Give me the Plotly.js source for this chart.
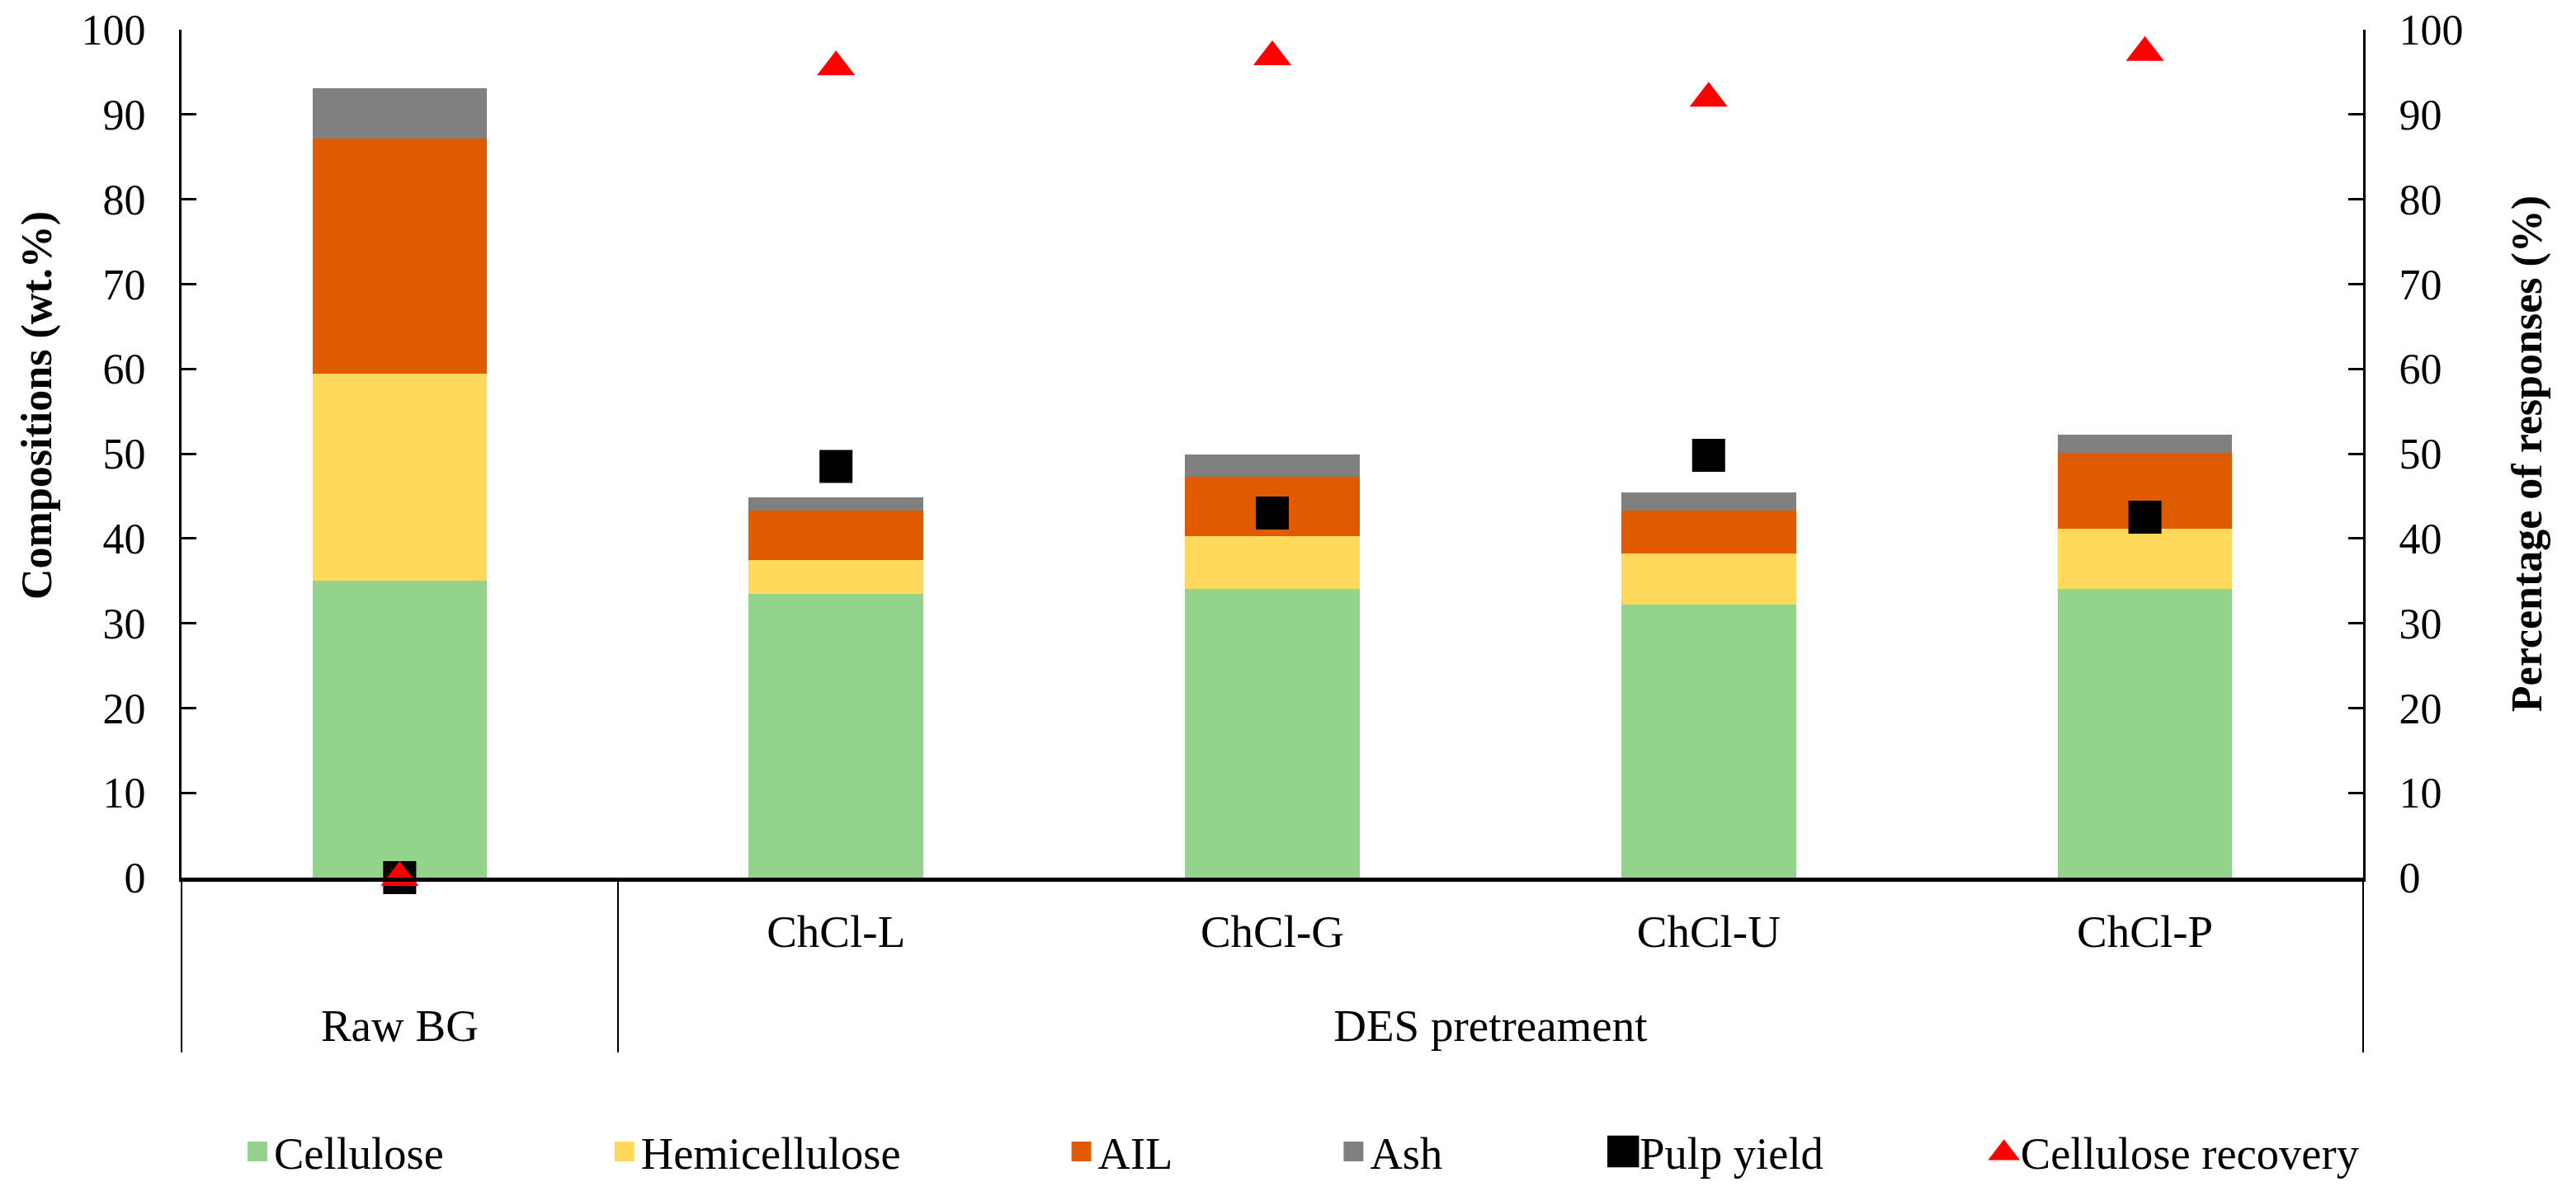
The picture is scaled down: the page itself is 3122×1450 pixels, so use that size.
<!DOCTYPE html>
<html>
<head>
<meta charset="utf-8">
<script src="https://cdn.plot.ly/plotly-3.0.1.min.js"></script>
<style>
  html, body { margin: 0; padding: 0; background: #fff; }
  #chart { width: 3122px; height: 1450px; }
</style>
</head>
<body>
<div id="chart"></div>
<script>
// ---- data ----
const groups = ["Raw BG", "DES pretreament", "DES pretreament", "DES pretreament", "DES pretreament"];
const samples = [" ", "ChCl-L", "ChCl-G", "ChCl-U", "ChCl-P"];

const cellulose     = [35.0, 33.5, 34.0, 32.2, 34.0];
const hemicellulose = [24.4, 4.0, 6.3, 6.0, 7.1];
const ail           = [27.8, 5.8, 7.0, 5.1, 9.0];
const ash           = [5.9, 1.5, 2.6, 2.1, 2.1];
const pulpYield     = [0, 48.5, 43.0, 49.8, 42.5];
const celluloseRecovery = [0, 95.6, 96.8, 91.9, 97.3];

const seriesNames = ["Cellulose", "Hemicellulose", "AIL", "Ash", "Pulp yield", "Cellulose recovery"];

// ---- styling ----
const FONT = '"Liberation Serif", "Times New Roman", Times, serif';
const LEG_SIZE = 54.5;
const LEG_GAP = 194;

// extra blank line under the first label row to push the group row down
const PAD = "<br><span style='font-size:20px'>\u00a0</span>";
const x = [groups, samples.map(s => s + PAD)];

function textWidth(t, size) {
  const c = document.createElement("canvas").getContext("2d");
  c.font = size + 'px "Liberation Serif", "Times New Roman", serif';
  return c.measureText(t).width;
}
function lw(i) {
  const w = textWidth(seriesNames[i], LEG_SIZE);
  return i === seriesNames.length - 1 ? w : w + LEG_GAP;
}

const colors = ["#94D38B", "#FFD95C", "#E05A00", "#808080"];
const barData = [cellulose, hemicellulose, ail, ash];

const traces = barData.map((vals, i) => ({
  type: "bar", name: seriesNames[i], x: x, y: vals, legendwidth: lw(i),
  marker: { color: colors[i], line: { width: 0 } }
}));
traces.push({
  type: "scatter", mode: "markers", name: seriesNames[4], x: x, y: pulpYield, yaxis: "y2",
  legendwidth: lw(4), cliponaxis: false,
  marker: { symbol: "square", size: 40, color: "#000000" }
});
traces.push({
  type: "scatter", mode: "markers", name: seriesNames[5], x: x, y: celluloseRecovery, yaxis: "y2",
  legendwidth: lw(5), cliponaxis: false,
  marker: { symbol: "triangle-up", size: 40, color: "#FF0000" }
});

const yCommon = {
  range: [0, 100], dtick: 10, tick0: 0,
  showline: true, linecolor: "#000", linewidth: 3,
  ticks: "inside", ticklen: 18, tickwidth: 3, tickcolor: "#000",
  showgrid: false, zeroline: false,
  tickfont: { family: FONT, size: 52, color: "#000" },
  ticklabelstandoff: 30,
  automargin: false
};

const NB = "\u00a0".repeat(9);

const layout = {
  width: 3122, height: 1450,
  paper_bgcolor: "#fff", plot_bgcolor: "#fff",
  font: { family: FONT, size: 52, color: "#000" },
  margin: { l: 220, r: 258, t: 36, b: 381 },
  barmode: "stack", bargap: 0.6,
  showlegend: true,
  legend: {
    orientation: "h", x: 0.5136, xanchor: "center", y: -0.323, yanchor: "middle",
    font: { family: FONT, size: LEG_SIZE, color: "#000" },
    traceorder: "normal"
  },
  xaxis: {
    type: "multicategory",
    showline: true, linecolor: "#000", linewidth: 5,
    ticks: "", showgrid: false, zeroline: false,
    showdividers: true, dividercolor: "#000", dividerwidth: 2,
    ticklabelstandoff: 13,
    tickfont: { family: FONT, size: 55, color: "#000" }
  },
  yaxis: Object.assign({}, yCommon, {
    title: { text: "<b>" + NB + "Compositions (wt.%)</b>", font: { family: FONT, size: 52, color: "#000" }, standoff: 20 }
  }),
  yaxis2: Object.assign({}, yCommon, {
    overlaying: "y", side: "right",
    title: { text: "<b>Percentage of responses (%)</b>", font: { family: FONT, size: 52, color: "#000" }, standoff: 60 }
  })
};

Plotly.newPlot("chart", traces, layout, { staticPlot: true, displayModeBar: false }).then(gd => {
  // enlarge legend symbols to match the reference swatch sizes
  const scales = [2, 2, 2, 2, 2.4, 2.1];
  gd.querySelectorAll(".legend .traces").forEach((tr, i) => {
    const pts = tr.querySelector(".legendpoints");
    if (!pts) return;
    const bb = pts.getBBox();
    const cx = bb.x + bb.width / 2, cy = bb.y + bb.height / 2;
    const s = scales[i] || 2;
    pts.setAttribute("transform", `translate(${cx},${cy}) scale(${s}) translate(${-cx},${-cy})`);
  });
});
</script>
</body>
</html>
